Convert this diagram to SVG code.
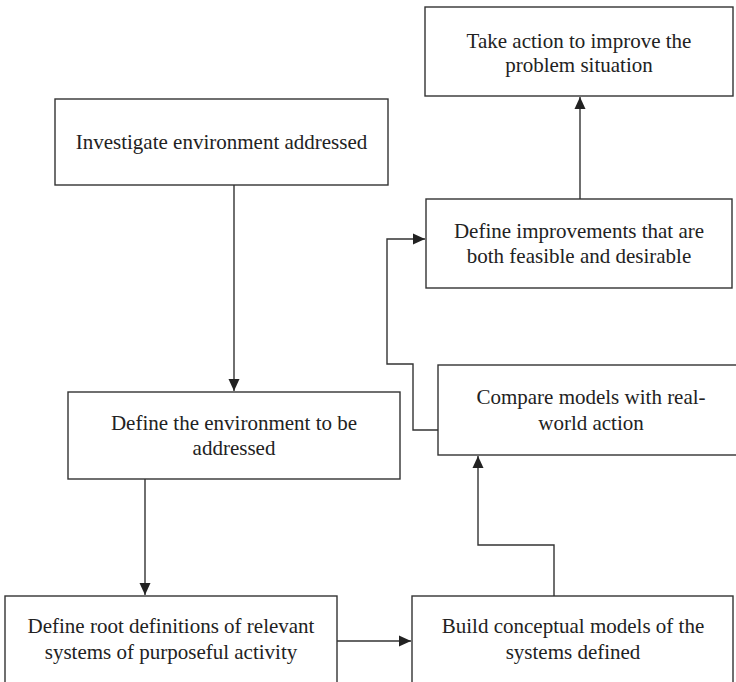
<svg xmlns="http://www.w3.org/2000/svg" width="736" height="682" viewBox="0 0 736 682">
  <style>
    .box { fill: #ffffff; stroke: #333333; stroke-width: 1.4; }
    .lbl { font-family: "Liberation Serif", "Times New Roman", serif; font-size: 21px; fill: #222222; text-anchor: middle; }
    .wire { fill: none; stroke: #333333; stroke-width: 1.4; }
  </style>
  <defs>
    <marker id="arrow" viewBox="0 0 12 12" refX="12" refY="6" markerWidth="12" markerHeight="12" markerUnits="userSpaceOnUse" orient="auto">
      <path d="M0,0.5 L12,6 L0,11.5 Z" fill="#222222"/>
    </marker>
  </defs>
  <rect width="736" height="682" fill="#ffffff"/>

  <!-- process steps -->
  <g id="take-action">
    <rect class="box" x="425" y="7" width="308" height="89"/>
    <text class="lbl" x="579" y="48">Take action to improve the</text>
    <text class="lbl" x="579" y="72">problem situation</text>
  </g>
  <g id="investigate">
    <rect class="box" x="55" y="99" width="333" height="86"/>
    <text class="lbl" x="221.5" y="149">Investigate environment addressed</text>
  </g>
  <g id="define-improvements">
    <rect class="box" x="426" y="199" width="306" height="89"/>
    <text class="lbl" x="579" y="238">Define improvements that are</text>
    <text class="lbl" x="579" y="263">both feasible and desirable</text>
  </g>
  <g id="compare">
    <rect class="box" x="438" y="365" width="310" height="90"/>
    <text class="lbl" x="591" y="404">Compare models with real-</text>
    <text class="lbl" x="591" y="430">world action</text>
  </g>
  <g id="define-environment">
    <rect class="box" x="68" y="392" width="332" height="87"/>
    <text class="lbl" x="234" y="430">Define the environment to be</text>
    <text class="lbl" x="234" y="455">addressed</text>
  </g>
  <g id="root-definitions">
    <rect class="box" x="5" y="596" width="332" height="100"/>
    <text class="lbl" x="171" y="633">Define root definitions of relevant</text>
    <text class="lbl" x="171" y="659">systems of purposeful activity</text>
  </g>
  <g id="build-models">
    <rect class="box" x="412" y="596" width="321" height="100"/>
    <text class="lbl" x="573" y="633">Build conceptual models of the</text>
    <text class="lbl" x="573" y="659">systems defined</text>
  </g>

  <!-- connectors -->
  <g id="connectors">
    <path class="wire" d="M234,185 V391" marker-end="url(#arrow)"/>
    <path class="wire" d="M145,479 V595" marker-end="url(#arrow)"/>
    <path class="wire" d="M337,641 H411" marker-end="url(#arrow)"/>
    <path class="wire" d="M554,596 V545 H478 V456" marker-end="url(#arrow)"/>
    <path class="wire" d="M438,430 H413 V364 H387 V239 H425" marker-end="url(#arrow)"/>
    <path class="wire" d="M580,199 V97" marker-end="url(#arrow)"/>
  </g>
</svg>
